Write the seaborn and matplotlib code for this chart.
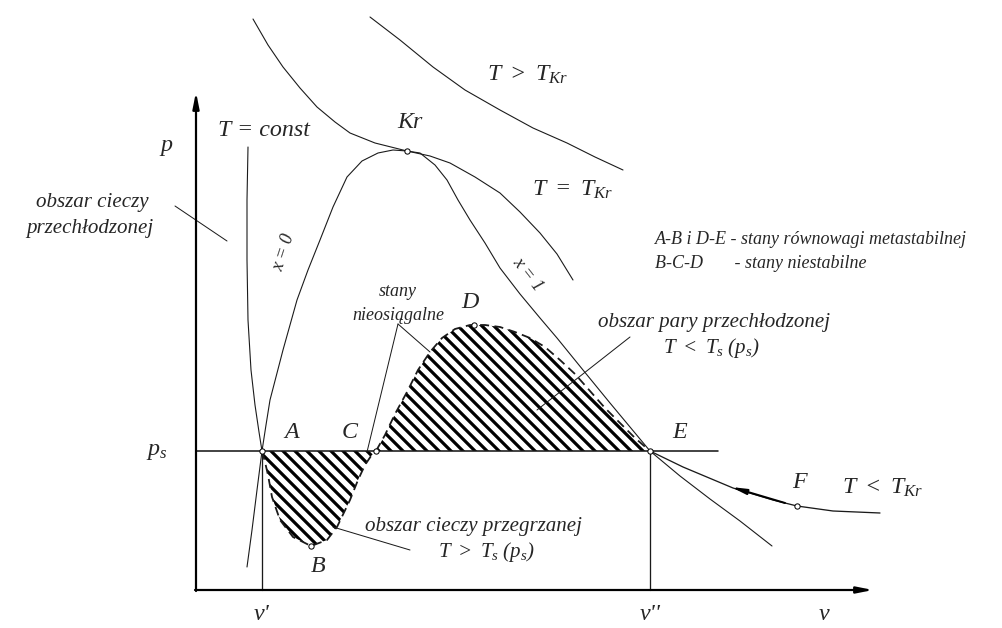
import matplotlib
matplotlib.use("Agg")
import matplotlib.pyplot as plt
import seaborn as sns

# points (v to the right, p downwards in picture units)
iso_liquid_v = [248, 247, 247, 248, 251, 255, 259, 262]
iso_liquid_p = [147, 200, 260, 320, 370, 405, 432, 451]

loop_low_v = [262, 265, 268, 272, 280, 293, 311, 327, 337, 350, 358, 365, 371, 376]
loop_low_p = [451, 462, 475, 497, 520, 537, 546, 540, 527, 500, 480, 465, 456, 451]

loop_high_v = [376, 385, 395, 407, 418, 430, 442, 455, 470, 485, 500, 515, 530, 545,
               560, 575, 590, 605, 620, 635, 650]
loop_high_p = [451, 435, 414, 392, 370, 352, 338, 329, 325, 325, 327, 332, 338, 347,
               360, 374, 391, 408, 423, 438, 451]

iso_vapour_v = [650, 683, 733, 773, 797, 833, 880]
iso_vapour_p = [451, 467, 488, 500, 506, 511, 513]

sat_liquid_v = [247, 252, 257, 262, 266, 270, 283, 297, 308, 320, 333, 347, 362, 378, 393, 407]
sat_liquid_p = [567, 530, 490, 451, 425, 400, 350, 300, 270, 240, 207, 177, 161, 153, 150, 151]

sat_vapour_v = [407, 420, 435, 447, 458, 470, 485, 500, 520, 540, 557, 583, 610, 630, 650,
                680, 710, 740, 772]
sat_vapour_p = [151, 153, 165, 180, 200, 220, 243, 268, 294, 318, 338, 370, 403, 427, 451,
                476, 499, 521, 546]

crit_iso_v = [253, 268, 283, 300, 317, 335, 350, 375, 407, 430, 450, 475, 500, 520, 540, 557, 573]
crit_iso_p = [19, 45, 67, 88, 107, 122, 133, 143, 151, 156, 163, 177, 193, 212, 233, 254, 280]

hot_iso_v = [370, 400, 433, 465, 500, 533, 567, 595, 623]
hot_iso_p = [17, 40, 67, 90, 110, 128, 143, 157, 170]

ps = 451
v1, v2 = 262, 650
pt_names = ["A", "B", "C", "D", "E", "F", "Kr"]
pt_v = [262, 311, 376, 474, 650, 797, 407]
pt_p = [451, 546, 451, 325, 451, 506, 151]

sns.set_theme(style="white")
plt.rcParams["font.family"] = ["Liberation Serif", "DejaVu Serif"]
plt.rcParams["font.style"] = "italic"
plt.rcParams["mathtext.fontset"] = "custom"
plt.rcParams["mathtext.it"] = "Liberation Serif:italic"
plt.rcParams["mathtext.rm"] = "Liberation Serif:italic"
plt.rcParams["mathtext.default"] = "it"
plt.rcParams["hatch.linewidth"] = 3.2

fig = plt.figure(figsize=(1002 / 72, 628 / 72), dpi=72)
ax = fig.add_axes([0, 0, 1, 1])
ax.set_xlim(0, 1002)
ax.set_ylim(628, 0)
ax.axis("off")

ink = "#1a1a1a"


def curve(v, p, lw=1.1, **kw):
    sns.lineplot(x=v, y=p, sort=False, estimator=None, ax=ax, color=ink,
                 linewidth=lw, legend=False, **kw)


# hatched metastable / unstable areas
ax.fill(loop_low_v, loop_low_p, facecolor="none", edgecolor="black", hatch="\\\\", linewidth=0)
ax.fill(loop_high_v, loop_high_p, facecolor="none", edgecolor="black", hatch="\\\\", linewidth=0)

curve(iso_liquid_v, iso_liquid_p)
curve(loop_low_v, loop_low_p, lw=1.8, linestyle=(0, (5, 3)))
curve(loop_high_v, loop_high_p, lw=1.8, linestyle=(0, (5, 3)))
curve(iso_vapour_v, iso_vapour_p, lw=1.3)
curve(sat_liquid_v, sat_liquid_p)
curve(sat_vapour_v, sat_vapour_p)
curve(crit_iso_v, crit_iso_p)
curve(hot_iso_v, hot_iso_p)

# p_s line and v', v'' verticals
curve([196, 718], [ps, ps], lw=1.6)
curve([v1, v1], [ps, 590], lw=1.3)
curve([v2, v2], [ps, 590], lw=1.3)

# axes with arrows
arrow = dict(arrowstyle="-|>,head_length=1.1,head_width=0.22", color="black", lw=2.2,
             shrinkA=0, shrinkB=0)
ax.annotate("", xy=(196, 92), xytext=(196, 591), arrowprops=arrow)
ax.annotate("", xy=(873, 590), xytext=(195, 590), arrowprops=arrow)
ax.annotate("", xy=(731, 487), xytext=(785, 503),
            arrowprops=dict(arrowstyle="-|>,head_length=1.0,head_width=0.18",
                            color="black", lw=2.0, shrinkA=0, shrinkB=0))

# leader lines
for (xa, ya), (xb, yb) in [((175, 206), (227, 241)), ((398, 324), (367, 452)),
                           ((398, 324), (430, 352)), ((630, 337), (537, 410)),
                           ((333, 527), (410, 550))]:
    curve([xa, xb], [ya, yb], lw=1.0)

sns.scatterplot(x=pt_v, y=pt_p, ax=ax, s=28, color="white", edgecolor="black",
                linewidth=1.0, zorder=6, legend=False)

big = 24
mid = 21
small = 18
for s, x, y in [("A", 292, 432), ("B", 318, 566), ("C", 350, 432), ("D", 470, 302),
                ("E", 680, 432), ("F", 799, 483), ("Kr", 410, 122)]:
    ax.text(x, y, s, fontsize=big, ha="center", va="center")

ax.text(166, 146, "p", fontsize=big, ha="center", va="center")
ax.text(157, 452, r"$p_s$", fontsize=big, ha="center", va="center")
ax.text(262, 615, "v'", fontsize=big, ha="center", va="center")
ax.text(650, 615, "v''", fontsize=big, ha="center", va="center")
ax.text(824, 615, "v", fontsize=big, ha="center", va="center")

ax.text(264, 131, "T = const", fontsize=big, ha="center", va="center")
ax.text(487, 75, r"$T\ >\ T_{Kr}$", fontsize=big, ha="left", va="center")
ax.text(532, 190, r"$T\ =\ T_{Kr}$", fontsize=big, ha="left", va="center")
ax.text(842, 488, r"$T\ <\ T_{Kr}$", fontsize=big, ha="left", va="center")

ax.text(92, 203, "obszar cieczy", fontsize=mid, ha="center", va="center")
ax.text(90, 228, "przechłodzonej", fontsize=mid, ha="center", va="center")

ax.text(284, 252, "x = 0", fontsize=small, ha="center", va="center", rotation=72)
ax.text(528, 274, "x = 1", fontsize=small, ha="center", va="center", rotation=-52)

ax.text(655, 240, "A-B i D-E - stany równowagi metastabilnej", fontsize=small,
        ha="left", va="center")
ax.text(655, 264, "B-C-D       - stany niestabilne", fontsize=small, ha="left", va="center")

ax.text(398, 291, "stany", fontsize=small, ha="center", va="center")
ax.text(398, 315, "nieosiągalne", fontsize=small, ha="center", va="center")

ax.text(598, 322, "obszar pary przechłodzonej", fontsize=mid, ha="left", va="center")
ax.text(663, 348, r"$T\ <\ T_s\ (p_s)$", fontsize=mid, ha="left", va="center")

ax.text(365, 527, "obszar cieczy przegrzanej", fontsize=mid, ha="left", va="center")
ax.text(438, 552, r"$T\ >\ T_s\ (p_s)$", fontsize=mid, ha="left", va="center")

fig.savefig("out.png", dpi=72, facecolor="white")
